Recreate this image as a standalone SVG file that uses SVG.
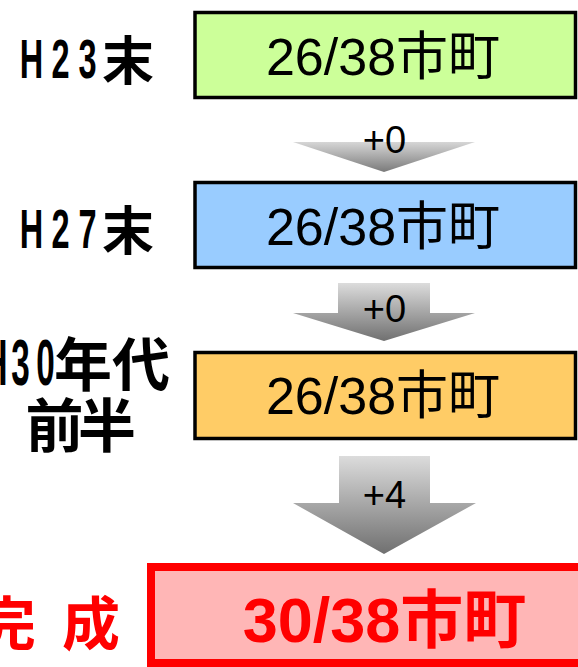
<svg xmlns="http://www.w3.org/2000/svg" width="578" height="667" viewBox="0 0 578 667">
<defs>
<linearGradient id="ag" x1="0" y1="0" x2="0" y2="1">
<stop offset="0" stop-color="#dcdcdc"/>
<stop offset="1" stop-color="#707070"/>
</linearGradient>
<linearGradient id="ag1" x1="0" y1="0" x2="0" y2="1">
<stop offset="0" stop-color="#d6d6d6"/>
<stop offset="1" stop-color="#7a7a7a"/>
</linearGradient>
</defs>
<style>
.box{stroke:#000;stroke-width:3.5}
.bt{font-family:"Liberation Sans","Noto Sans CJK JP",sans-serif;font-size:52px;fill:#000;text-anchor:middle}
.lat{font-family:"Liberation Sans",sans-serif;font-weight:700;fill:#000;text-anchor:middle}
.cjk{font-family:"Noto Sans CJK JP",sans-serif;font-weight:700;fill:#000;text-anchor:middle}
.inc{font-family:"Liberation Sans",sans-serif;font-size:38px;fill:#000;text-anchor:middle}
</style>
<rect width="578" height="667" fill="#fff"/>
<g id="connectors">
<g id="arrow1">
<polygon points="293,142 475,142 384,172" fill="url(#ag1)"/>
<text class="inc" x="384.5" y="153">+0</text>
</g>
<g id="arrow2">
<polygon points="338,283 430,283 430,313 475,313 384,341 293,313 338,313" fill="url(#ag)"/>
<text class="inc" x="384.5" y="322">+0</text>
</g>
<g id="arrow3">
<polygon points="339,456 430,456 430,503 476,503 384,554 293,503 339,503" fill="url(#ag)"/>
<text class="inc" x="384.5" y="508">+4</text>
</g>
</g>
<g id="node1">
<rect class="box" x="195" y="12.5" width="380.5" height="85" fill="#ccff99"/>
<text class="bt" x="383" y="75">26/38市町</text>
<text class="lat" font-size="56" transform="scale(0.58,1)" x="54.3 104.3 150.9" y="78">H23</text>
<text class="cjk" font-size="52" x="128" y="80">末</text>
</g>
<g id="node2">
<rect class="box" x="195" y="182.5" width="380.5" height="85" fill="#99ccff"/>
<text class="bt" x="383" y="245">26/38市町</text>
<text class="lat" font-size="56" transform="scale(0.58,1)" x="54.3 104.3 150.9" y="248">H27</text>
<text class="cjk" font-size="52" x="128" y="250">末</text>
</g>
<g id="node3">
<rect class="box" x="195" y="352.5" width="380.5" height="86" fill="#ffcc66"/>
<text class="bt" x="383" y="414">26/38市町</text>
<text class="lat" font-size="64" transform="scale(0.52,1)" x="-8.7 39.4 87.5" y="385">H30</text>
<text class="cjk" font-size="58" x="83 141" y="386">年代</text>
<text class="cjk" font-size="58" x="54.5 107" y="447">前半</text>
</g>
<g id="node4">
<rect x="151" y="567" width="440" height="96" fill="#ffb6b6" stroke="#ff0000" stroke-width="8"/>
<text x="384.5" y="642" font-family="Liberation Sans,'Noto Sans CJK JP',sans-serif" font-weight="700" font-size="63" fill="#ff0000" text-anchor="middle">30/38市町</text>
<text x="7 49 91" y="645" font-family="'Noto Sans CJK JP',sans-serif" font-weight="700" font-size="58" fill="#ff0000" text-anchor="middle">完 成</text>
</g>
</svg>
